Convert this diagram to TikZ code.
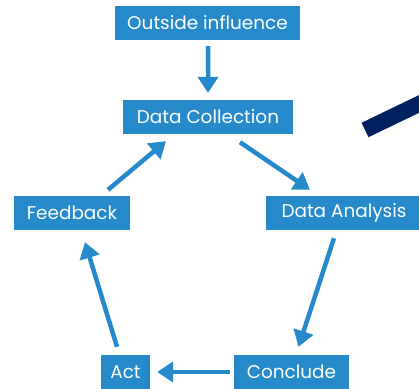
\documentclass[tikz,border=0pt]{standalone}
\usepackage{fontspec}
\setmainfont{Poppins}
\usetikzlibrary{arrows.meta,calc}
\definecolor{boxblue}{RGB}{38,137,202}
\definecolor{navy}{RGB}{0,33,96}
\tikzset{
	box/.style={fill=boxblue,text=white,inner sep=0pt,minimum height=34bp,font=\fontsize{18.5}{20}\selectfont},
	flow/.style={draw=boxblue,line width=4.5bp,-{Triangle[width=20bp,length=16bp]}}
}

\begin{document}
\begin{tikzpicture}[x=1bp,y=-1bp]
		\useasboundingbox (0,0) rectangle (419,389);
		\clip (0,0) rectangle (419,389);
		\node[box,minimum width=185bp] (oi) at (207.5,23) {Outside influence};
		\node[box,minimum width=170bp] (dc) at (208,117) {Data Collection};
		\node[box,minimum width=116bp] (fb) at (72,213) {Feedback};
		\node[box,minimum width=156bp] (da) at (344,213) {Data Analysis};
		\node[box,minimum width=49bp] (act) at (125.5,372) {Act};
		\node[box,minimum width=115bp] (cc) at (291.5,372) {Conclude};
		\draw[flow] ($(oi.south)+(0.5,6)$)--($(dc.north)+(0,-7)$);
		\draw[flow] ($(dc.south)+(32,8)$)--($(da.north)+(-34,-6)$);
		\draw[flow] ($(da.south)+(-10,8)$)--($(cc.north)+(7,-8)$);
		\draw[flow] ($(cc.west)+(-4,0)$)--($(act.east)+(7,0)$);
		\draw[flow] ($(act.north)+(-8.5,-8)$)--($(fb.south)+(13,12)$);
		\draw[flow] ($(fb.north)+(36,-6)$)--($(dc.south)+(-42,7)$);
		\draw[navy,line width=16bp] (365,130)--(450,89);
\end{tikzpicture}
\end{document}
